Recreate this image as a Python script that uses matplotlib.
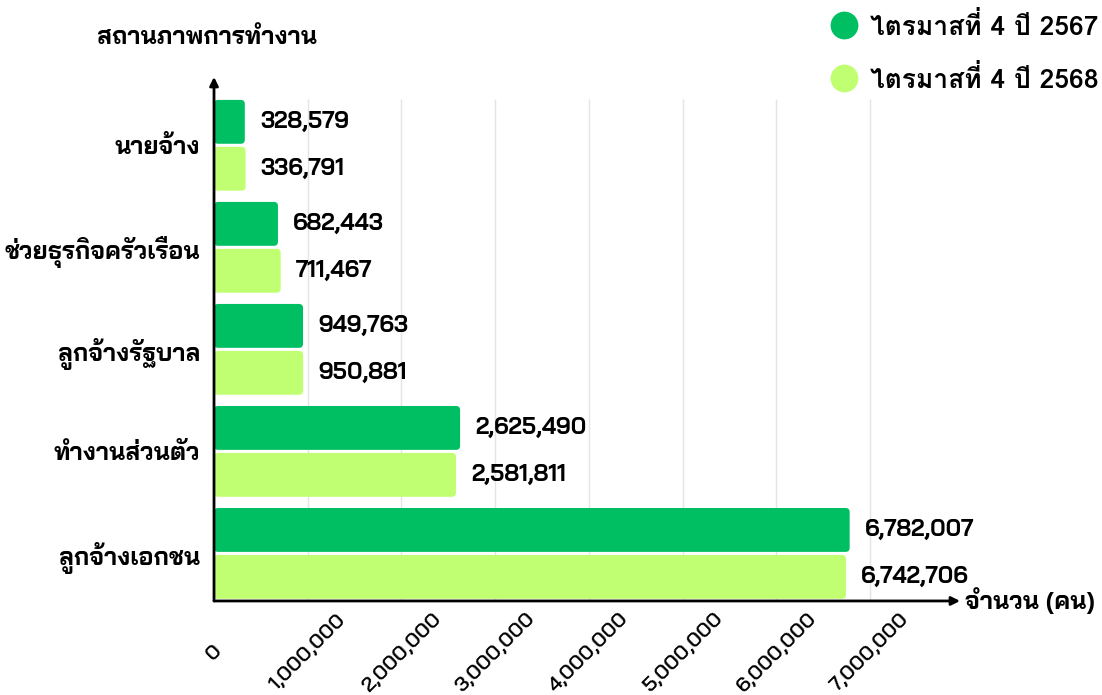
import matplotlib
matplotlib.use("Agg")
import matplotlib.pyplot as plt
from matplotlib.patches import FancyBboxPatch
from matplotlib.lines import Line2D
import numpy as np

# data (top to bottom in the chart)
categories = ["นายจ้าง", "ช่วยธุรกิจครัวเรือน", "ลูกจ้างรัฐบาล", "ทำงานส่วนตัว", "ลูกจ้างเอกชน"]
q4_2567 = [328579, 682443, 949763, 2625490, 6782007]
q4_2568 = [336791, 711467, 950881, 2581811, 6742706]
series_names = ["ไตรมาสที่ 4 ปี 2567", "ไตรมาสที่ 4 ปี 2568"]
x_ticks = [0, 1000000, 2000000, 3000000, 4000000, 5000000, 6000000, 7000000]

colors = ["#00BF63", "#C1FF72"]
FONT = ["Bai Jamjuree", "DejaVu Sans"]
# Bai Jamjuree needs mark positioning for "ที่", Loma places the tone mark itself
LEGEND_FONT = ["Loma", "DejaVu Sans"]
plt.rcParams["font.family"] = FONT

fig = plt.figure(figsize=(11.02, 6.95), dpi=100)
ax = fig.add_axes([0.1942, 0.1353, 0.6770, 0.7540])

n = len(categories)
ypos = np.arange(n)[::-1]  # first category on top
bh = 0.43
off = 0.23
ax.set_xlim(0, 7.96e6)
ax.set_ylim(-0.466, n - 1 + 0.67)

# grid lines only over the bar area
ax.vlines(x_ticks[1:], -0.466, n - 1 + 0.455, color="#e4e4e4", lw=1, zorder=0)

bars1 = ax.barh(ypos + off, q4_2567, height=bh, color=colors[0])
bars2 = ax.barh(ypos - off, q4_2568, height=bh, color=colors[1])

# rounded corners
px_x = 7.96e6 / (0.6770 * 1102)
px_y = (n - 1 + 0.67 + 0.466) / (0.7540 * 695)
for b in list(bars1) + list(bars2):
    x0, y0 = b.get_x(), b.get_y()
    w, h = b.get_width(), b.get_height()
    fb = FancyBboxPatch((x0, y0), w, h,
                        boxstyle=f"round,pad=0,rounding_size={4 * px_x}",
                        mutation_aspect=px_y / px_x,
                        fc=b.get_facecolor(), ec="none", zorder=2)
    b.set_visible(False)
    ax.add_patch(fb)

for bars, vals in [(bars1, q4_2567), (bars2, q4_2568)]:
    for b, v in zip(bars, vals):
        ax.annotate(f"{v:,}", (v, b.get_y() + b.get_height() / 2),
                    xytext=(11, 0), textcoords="offset points",
                    ha="left", va="center", fontsize=16.5, fontweight="bold")

ax.set_yticks(ypos)
ax.set_yticklabels(categories, fontsize=17.5, fontweight="bold")
ax.set_xticks(x_ticks)
ax.set_xticklabels([f"{t:,}" for t in x_ticks], fontsize=14.8, fontweight="semibold",
                   rotation=45, rotation_mode="anchor", ha="center", va="center")
ax.tick_params(axis="x", length=0, pad=37)
ax.tick_params(axis="y", length=0, pad=10)
for s in ax.spines.values():
    s.set_visible(False)

# axis arrows
arrow = dict(arrowstyle="-|>,head_length=0.5,head_width=0.25", color="black", lw=2,
             shrinkA=0, shrinkB=0)
ax.annotate("", xy=(0, 1), xytext=(0, 0), xycoords="axes fraction", arrowprops=arrow)
ax.annotate("", xy=(1, 0), xytext=(0, 0), xycoords="axes fraction", arrowprops=arrow)

ax.text(1.006, 0, "จำนวน (คน)", transform=ax.transAxes, ha="left", va="center",
        fontsize=17.5, fontweight="bold")
fig.text(97 / 1102, 1 - 38 / 695, "สถานภาพการทำงาน", ha="left", va="center",
         fontsize=17.5, fontweight="bold")

handles = [Line2D([], [], marker="o", ls="none", ms=19, mfc=c, mec=c) for c in colors]
fig.legend(handles, series_names, loc="upper right", bbox_to_anchor=(1.0136, 1.01),
           frameon=False, prop=dict(family=LEGEND_FONT, size=19, weight="bold"),
           handletextpad=0.0, labelspacing=0.95, borderaxespad=0.3)

fig.savefig("out.png", dpi=100)
